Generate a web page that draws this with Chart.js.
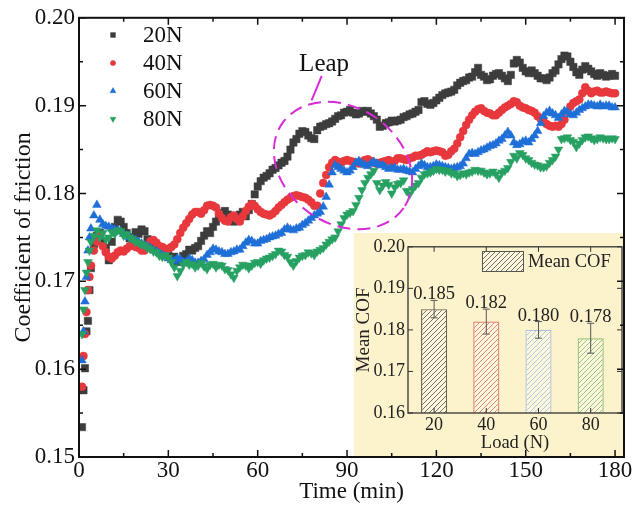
<!DOCTYPE html>
<html>
<head>
<meta charset="utf-8">
<title>Coefficient of friction vs. time</title>
<script src="https://cdn.jsdelivr.net/npm/chart.js@4.4.1/dist/chart.umd.min.js"></script>
<style>
  html, body { margin: 0; padding: 0; background: #fff; }
  #wrap { position: relative; width: 632px; height: 510px; overflow: hidden; }
  #inset { position: absolute; left: 354px; top: 233px; z-index: 0; }
  #main { position: absolute; left: 0; top: 0; z-index: 1; }
</style>
</head>
<body>
<div id="wrap">
  <canvas id="inset" width="270" height="224"></canvas>
  <canvas id="main" width="632" height="510"></canvas>
</div>
<script>
// Sliding time (min)
const minutes = [1, 1.5, 2, 2.5, 3, 3.5, 4, 5, 6, 7,
  8, 9, 10, 11, 12, 13, 14, 15, 16, 17,
  18, 19, 20, 21, 22, 23, 24, 25, 26, 27,
  28, 29, 30, 31, 32, 33, 34, 35, 36, 37,
  38, 39, 40, 41, 42, 43, 44, 45, 46, 47,
  48, 49, 50, 51, 52, 53, 54, 55, 56, 57,
  58, 59, 60, 61, 62, 63, 64, 65, 66, 67,
  68, 69, 70, 71, 72, 73, 74, 75, 76, 77,
  78, 79, 80, 81, 82, 83, 84, 85, 86, 87,
  88, 89, 90, 91, 92, 93, 94, 95, 96, 97,
  98, 99, 100, 101, 102, 103, 104, 105, 106, 107,
  108, 109, 110, 111, 112, 113, 114, 115, 116, 117,
  118, 119, 120, 121, 122, 123, 124, 125, 126, 127,
  128, 129, 130, 131, 132, 133, 134, 135, 136, 137,
  138, 139, 140, 141, 142, 143, 144, 145, 146, 147,
  148, 149, 150, 151, 152, 153, 154, 155, 156, 157,
  158, 159, 160, 161, 162, 163, 164, 165, 166, 167,
  168, 169, 170, 171, 172, 173, 174, 175, 176, 177,
  178, 179, 180];

// Coefficient of friction under each normal load
const cof20N = [0.1534, 0.1576, 0.1601, 0.1643, 0.1655, 0.1690, 0.1715, 0.1742, 0.1752, 0.1755,
  0.1745, 0.1738, 0.1724, 0.1745, 0.1762, 0.1770, 0.1768, 0.1762, 0.1755, 0.1749,
  0.1750, 0.1756, 0.1754, 0.1759, 0.1757, 0.1748, 0.1745, 0.1742, 0.1739, 0.1738,
  0.1735, 0.1731, 0.1730, 0.1727, 0.1728, 0.1722, 0.1724, 0.1729, 0.1731, 0.1736,
  0.1735, 0.1738, 0.1740, 0.1746, 0.1752, 0.1757, 0.1755, 0.1762, 0.1768, 0.1774,
  0.1778, 0.1780, 0.1776, 0.1771, 0.1768, 0.1773, 0.1776, 0.1779, 0.1774, 0.1781,
  0.1788, 0.1799, 0.1808, 0.1814, 0.1818, 0.1820, 0.1823, 0.1827, 0.1829, 0.1832,
  0.1835, 0.1837, 0.1842, 0.1850, 0.1858, 0.1862, 0.1868, 0.1871, 0.1870, 0.1866,
  0.1863, 0.1862, 0.1872, 0.1876, 0.1877, 0.1879, 0.1880, 0.1882, 0.1885, 0.1888,
  0.1889, 0.1892, 0.1893, 0.1895, 0.1892, 0.1890, 0.1891, 0.1894, 0.1893, 0.1894,
  0.1891, 0.1888, 0.1884, 0.1876, 0.1877, 0.1880, 0.1881, 0.1883, 0.1882, 0.1883,
  0.1884, 0.1887, 0.1888, 0.1890, 0.1891, 0.1893, 0.1895, 0.1904, 0.1905, 0.1902,
  0.1901, 0.1903, 0.1906, 0.1909, 0.1912, 0.1914, 0.1915, 0.1916, 0.1918, 0.1923,
  0.1926, 0.1928, 0.1929, 0.1932, 0.1933, 0.1938, 0.1943, 0.1935, 0.1933, 0.1929,
  0.1930, 0.1934, 0.1936, 0.1937, 0.1934, 0.1931, 0.1928, 0.1935, 0.1948, 0.1952,
  0.1949, 0.1943, 0.1939, 0.1937, 0.1940, 0.1937, 0.1934, 0.1931, 0.1931, 0.1929,
  0.1932, 0.1937, 0.1940, 0.1947, 0.1953, 0.1957, 0.1956, 0.1950, 0.1944, 0.1938,
  0.1935, 0.1941, 0.1945, 0.1942, 0.1939, 0.1936, 0.1934, 0.1937, 0.1935, 0.1933,
  0.1934, 0.1936, 0.1934];

const cof40N = [0.1580, 0.1615, 0.1640, 0.1665, 0.1690, 0.1705, 0.1718, 0.1735, 0.1745, 0.1752,
  0.1740, 0.1733, 0.1728, 0.1726, 0.1729, 0.1733, 0.1735, 0.1734, 0.1737, 0.1740,
  0.1741, 0.1739, 0.1738, 0.1735, 0.1735, 0.1741, 0.1746, 0.1747, 0.1744, 0.1740,
  0.1739, 0.1737, 0.1737, 0.1739, 0.1742, 0.1748, 0.1755, 0.1761, 0.1766, 0.1771,
  0.1776, 0.1779, 0.1779, 0.1777, 0.1781, 0.1786, 0.1787, 0.1786, 0.1784, 0.1777,
  0.1772, 0.1769, 0.1768, 0.1773, 0.1775, 0.1771, 0.1768, 0.1774, 0.1780, 0.1785,
  0.1788, 0.1786, 0.1782, 0.1779, 0.1777, 0.1776, 0.1775, 0.1777, 0.1780, 0.1784,
  0.1787, 0.1790, 0.1793, 0.1795, 0.1797, 0.1798, 0.1797, 0.1796, 0.1795, 0.1793,
  0.1790, 0.1786, 0.1786, 0.1800, 0.1812, 0.1821, 0.1830, 0.1835, 0.1838, 0.1836,
  0.1835, 0.1837, 0.1838, 0.1837, 0.1836, 0.1835, 0.1834, 0.1836, 0.1838, 0.1839,
  0.1837, 0.1835, 0.1834, 0.1835, 0.1836, 0.1837, 0.1838, 0.1836, 0.1837, 0.1840,
  0.1840, 0.1839, 0.1838, 0.1840, 0.1841, 0.1843, 0.1843, 0.1844, 0.1846, 0.1848,
  0.1847, 0.1848, 0.1849, 0.1848, 0.1847, 0.1843, 0.1844, 0.1848, 0.1851, 0.1857,
  0.1864, 0.1871, 0.1878, 0.1884, 0.1889, 0.1893, 0.1896, 0.1897, 0.1894, 0.1892,
  0.1891, 0.1889, 0.1889, 0.1892, 0.1895, 0.1898, 0.1900, 0.1902, 0.1905, 0.1904,
  0.1900, 0.1898, 0.1897, 0.1895, 0.1894, 0.1892, 0.1888, 0.1885, 0.1882, 0.1879,
  0.1877, 0.1876, 0.1877, 0.1876, 0.1879, 0.1884, 0.1893, 0.1899, 0.1903, 0.1905,
  0.1907, 0.1914, 0.1921, 0.1917, 0.1914, 0.1916, 0.1917, 0.1915, 0.1915, 0.1916,
  0.1915, 0.1914, 0.1914];

const cof60N = [0.1610, 0.1643, 0.1677, 0.1705, 0.1735, 0.1750, 0.1760, 0.1775, 0.1787, 0.1770,
  0.1765, 0.1763, 0.1762, 0.1760, 0.1759, 0.1758, 0.1757, 0.1754, 0.1752, 0.1750,
  0.1748, 0.1747, 0.1745, 0.1743, 0.1741, 0.1740, 0.1738, 0.1735, 0.1734, 0.1732,
  0.1730, 0.1728, 0.1726, 0.1724, 0.1723, 0.1726, 0.1725, 0.1722, 0.1722, 0.1726,
  0.1724, 0.1721, 0.1721, 0.1723, 0.1725, 0.1730, 0.1733, 0.1737, 0.1736, 0.1734,
  0.1733, 0.1731, 0.1731, 0.1733, 0.1734, 0.1736, 0.1736, 0.1740, 0.1744, 0.1747,
  0.1746, 0.1743, 0.1743, 0.1746, 0.1747, 0.1748, 0.1750, 0.1751, 0.1752, 0.1754,
  0.1755, 0.1759, 0.1761, 0.1759, 0.1758, 0.1760, 0.1761, 0.1764, 0.1766, 0.1769,
  0.1772, 0.1775, 0.1777, 0.1779, 0.1785, 0.1796, 0.1810, 0.1824, 0.1832, 0.1830,
  0.1828, 0.1826, 0.1824, 0.1826, 0.1830, 0.1835, 0.1837, 0.1834, 0.1832, 0.1831,
  0.1834, 0.1836, 0.1834, 0.1832, 0.1832, 0.1830, 0.1828, 0.1829, 0.1829, 0.1827,
  0.1827, 0.1828, 0.1826, 0.1825, 0.1824, 0.1828, 0.1831, 0.1834, 0.1832, 0.1830,
  0.1830, 0.1831, 0.1833, 0.1832, 0.1831, 0.1830, 0.1829, 0.1828, 0.1829, 0.1830,
  0.1831, 0.1834, 0.1840, 0.1845, 0.1846, 0.1845, 0.1847, 0.1849, 0.1850, 0.1852,
  0.1854, 0.1855, 0.1857, 0.1860, 0.1862, 0.1866, 0.1870, 0.1866, 0.1858, 0.1855,
  0.1856, 0.1859, 0.1860, 0.1858, 0.1862, 0.1866, 0.1871, 0.1880, 0.1888, 0.1892,
  0.1894, 0.1891, 0.1889, 0.1886, 0.1890, 0.1894, 0.1893, 0.1890, 0.1889, 0.1892,
  0.1895, 0.1897, 0.1899, 0.1901, 0.1901, 0.1900, 0.1899, 0.1901, 0.1899, 0.1900,
  0.1900, 0.1898, 0.1898];

const cof80N = [0.1640, 0.1668, 0.1690, 0.1710, 0.1722, 0.1735, 0.1745, 0.1752, 0.1758, 0.1750,
  0.1755, 0.1748, 0.1750, 0.1756, 0.1754, 0.1758, 0.1757, 0.1752, 0.1754, 0.1750,
  0.1748, 0.1745, 0.1744, 0.1742, 0.1741, 0.1738, 0.1737, 0.1734, 0.1733, 0.1729,
  0.1728, 0.1730, 0.1727, 0.1722, 0.1716, 0.1706, 0.1712, 0.1719, 0.1722, 0.1719,
  0.1720, 0.1716, 0.1718, 0.1721, 0.1717, 0.1714, 0.1719, 0.1720, 0.1716, 0.1719,
  0.1718, 0.1714, 0.1713, 0.1708, 0.1704, 0.1712, 0.1716, 0.1719, 0.1718, 0.1715,
  0.1718, 0.1721, 0.1722, 0.1720, 0.1724, 0.1726, 0.1727, 0.1729, 0.1731, 0.1735,
  0.1734, 0.1730, 0.1728, 0.1722, 0.1718, 0.1723, 0.1727, 0.1729, 0.1730, 0.1733,
  0.1732, 0.1730, 0.1734, 0.1736, 0.1738, 0.1742, 0.1745, 0.1748, 0.1750, 0.1757,
  0.1765, 0.1772, 0.1776, 0.1778, 0.1780, 0.1787, 0.1795, 0.1804, 0.1812, 0.1818,
  0.1822, 0.1826, 0.1812, 0.1804, 0.1809, 0.1813, 0.1810, 0.1800, 0.1807, 0.1811,
  0.1812, 0.1815, 0.1803, 0.1799, 0.1805, 0.1809, 0.1812, 0.1818, 0.1822, 0.1823,
  0.1824, 0.1826, 0.1828, 0.1827, 0.1827, 0.1825, 0.1826, 0.1823, 0.1823, 0.1820,
  0.1821, 0.1823, 0.1822, 0.1824, 0.1825, 0.1827, 0.1826, 0.1826, 0.1824, 0.1822,
  0.1823, 0.1825, 0.1822, 0.1818, 0.1824, 0.1826, 0.1829, 0.1836, 0.1843, 0.1840,
  0.1846, 0.1844, 0.1840, 0.1838, 0.1835, 0.1833, 0.1832, 0.1830, 0.1830, 0.1831,
  0.1835, 0.1838, 0.1842, 0.1850, 0.1862, 0.1863, 0.1864, 0.1861, 0.1859, 0.1853,
  0.1857, 0.1861, 0.1864, 0.1865, 0.1863, 0.1861, 0.1862, 0.1864, 0.1863, 0.1862,
  0.1862, 0.1863, 0.1862];

const seriesLabels = ['20N', '40N', '60N', '80N'];

// Mean COF summary per load
const loads = ['20', '40', '60', '80'];
const meanCOF = [0.185, 0.182, 0.180, 0.178];
const cofError = [0.0021, 0.0030, 0.0020, 0.0036];

const SERIF = "'Liberation Serif', 'Times New Roman', serif";
Chart.defaults.font.family = SERIF;
Chart.defaults.color = '#111';

// ---------- shared plugins ----------
const frameTicks = {
  id: 'frameTicks',
  afterDraw(chart, args, o) {
    const { ctx, chartArea: a, scales: { x, y } } = chart;
    ctx.save();
    ctx.strokeStyle = o.color;
    ctx.lineWidth = o.tickWidth;
    ctx.beginPath();
    const each = (scale, step, major, fn) => {
      const k0 = Math.ceil(scale.min / step - 1e-6), k1 = Math.floor(scale.max / step + 1e-6);
      for (let k = k0; k <= k1; k++) {
        const v = k * step;
        const isMajor = Math.abs(v / major - Math.round(v / major)) < 1e-6;
        fn(scale.getPixelForValue(v), isMajor ? o.major : o.minor);
      }
    };
    each(x, o.xStep, o.xMajor, (px, len) => {
      ctx.moveTo(px, a.bottom); ctx.lineTo(px, a.bottom - len);
      ctx.moveTo(px, a.top); ctx.lineTo(px, a.top + len);
    });
    each(y, o.yStep, o.yMajor, (py, len) => {
      ctx.moveTo(a.left, py); ctx.lineTo(a.left + len, py);
      ctx.moveTo(a.right, py); ctx.lineTo(a.right - len, py);
    });
    ctx.stroke();
    ctx.lineWidth = o.frameWidth;
    ctx.strokeRect(a.left, a.top, a.right - a.left, a.bottom - a.top);
    ctx.restore();
  }
};

// ---------- main time-series chart ----------
const markers = [
  { color: '#3d3d3d', style: 'rect', radius: 5.2, rotation: 0 },
  { color: '#e8383d', style: 'circle', radius: 4.0, rotation: 0 },
  { color: '#1f6fd8', style: 'triangle', radius: 5.0, rotation: 0 },
  { color: '#27a162', style: 'triangle', radius: 5.0, rotation: 180 }
];
const seriesValues = [cof20N, cof40N, cof60N, cof80N];

const seriesKey = {
  id: 'seriesKey',
  afterDraw(chart, args, o) {
    const { ctx } = chart;
    ctx.save();
    ctx.font = o.font;
    ctx.textAlign = 'left';
    ctx.textBaseline = 'middle';
    chart.data.datasets.forEach((ds, i) => {
      const cy = o.y + i * o.rowGap;
      ctx.fillStyle = ds.pointBackgroundColor;
      ctx.strokeStyle = ds.pointBorderColor;
      ctx.lineWidth = 0.5;
      Chart.helpers.drawPoint(ctx, {
        pointStyle: ds.pointStyle, rotation: ds.pointRotation,
        radius: o.markerRadius[i], borderWidth: 0.5
      }, o.x, cy);
      ctx.fillStyle = o.color;
      ctx.fillText(ds.label, o.textX, cy + 1);
    });
    ctx.restore();
  }
};

const leapNote = {
  id: 'leapNote',
  afterDatasetsDraw(chart, args, o) {
    const { ctx, scales: { x, y } } = chart;
    const cx = x.getPixelForValue(o.center[0]);
    const cy = y.getPixelForValue(o.center[1]);
    ctx.save();
    ctx.strokeStyle = o.color;
    ctx.lineWidth = o.lineWidth;
    ctx.setLineDash(o.dash);
    ctx.beginPath();
    ctx.ellipse(cx, cy, o.radii[0], o.radii[1], o.tilt * Math.PI / 180, 0, Math.PI * 2);
    ctx.stroke();
    ctx.setLineDash([]);
    ctx.beginPath();
    ctx.moveTo(x.getPixelForValue(o.leader[0][0]), y.getPixelForValue(o.leader[0][1]));
    ctx.lineTo(x.getPixelForValue(o.leader[1][0]), y.getPixelForValue(o.leader[1][1]));
    ctx.stroke();
    ctx.font = o.font;
    ctx.fillStyle = o.textColor;
    ctx.textAlign = 'center';
    ctx.textBaseline = 'alphabetic';
    ctx.fillText(o.text, x.getPixelForValue(o.textAt[0]), y.getPixelForValue(o.textAt[1]));
    ctx.restore();
  }
};

new Chart(document.getElementById('main'), {
  type: 'scatter',
  data: {
    datasets: seriesValues.map((vals, i) => ({
      label: seriesLabels[i],
      data: minutes.map((t, j) => ({ x: t, y: vals[j] })),
      showLine: false,
      pointStyle: markers[i].style,
      pointRotation: markers[i].rotation,
      pointRadius: markers[i].radius,
      pointBackgroundColor: markers[i].color,
      pointBorderColor: markers[i].color,
      pointBorderWidth: 0.5,
      order: seriesValues.length - i
    }))
  },
  options: {
    responsive: false,
    animation: false,
    devicePixelRatio: 1,
    events: [],
    layout: { padding: { top: 17, right: 8, left: 0, bottom: 0 } },
    scales: {
      x: {
        type: 'linear', min: 0, max: 183,
        grid: { display: false, drawTicks: false },
        border: { display: false },
        ticks: { stepSize: 30, includeBounds: false, padding: 0, maxRotation: 0,
                 font: { size: 23 }, color: '#111' },
        afterBuildTicks: s => { s.ticks = s.ticks.filter(t => t.value % 30 === 0); },
        afterFit: s => { s.height = 53; s.paddingLeft = 0; s.paddingRight = 0; },
        title: { display: true, text: 'Time (min)', font: { size: 23 }, color: '#111',
                 padding: { top: 0, bottom: 4 } }
      },
      y: {
        type: 'linear', min: 0.15, max: 0.20,
        grid: { display: false, drawTicks: false },
        border: { display: false },
        ticks: { stepSize: 0.01, includeBounds: false, padding: 4,
                 font: { size: 23 }, color: '#111', callback: v => v.toFixed(2) },
        afterFit: s => { s.width = 79; },
        title: { display: true, text: 'Coefficient of friction', font: { size: 24 }, color: '#111',
                 padding: { top: 9, bottom: 0 } }
      }
    },
    plugins: {
      legend: { display: false },
      tooltip: { enabled: false },
      frameTicks: { color: '#111', tickWidth: 1.5, frameWidth: 2, major: 7, minor: 4,
                    xStep: 15, xMajor: 30, yStep: 0.005, yMajor: 0.01 },
      seriesKey: { x: 113, y: 35, rowGap: 28, textX: 143, font: '23px ' + SERIF, color: '#111',
                   markerRadius: [3.4, 2.6, 3.4, 3.4] },
      leapNote: { text: 'Leap', textAt: [82.3, 0.1940], leader: [[81.5, 0.1934], [78.1, 0.1906]],
                  center: [88.65, 0.18318], radii: [74, 58], tilt: 35,
                  color: '#d82bd8', lineWidth: 2, dash: [13, 7],
                  font: '25px ' + SERIF, textColor: '#111' }
    }
  },
  plugins: [frameTicks, seriesKey, leapNote]
});

// ---------- inset: mean COF per load ----------
const insetCanvas = document.getElementById('inset');
const ictx = insetCanvas.getContext('2d');
const barColors = ['#6a6055', '#e0786a', '#a9c3dc', '#8dbf72'];

function hatch(color) {
  const s = 5;
  const c = document.createElement('canvas');
  c.width = s; c.height = s;
  const g = c.getContext('2d');
  g.fillStyle = 'rgba(255,255,255,0.35)';
  g.fillRect(0, 0, s, s);
  g.strokeStyle = color;
  g.lineWidth = 0.9;
  g.beginPath();
  g.moveTo(0, s); g.lineTo(s, 0);
  g.moveTo(-1, 1); g.lineTo(1, -1);
  g.moveTo(s - 1, s + 1); g.lineTo(s + 1, s - 1);
  g.stroke();
  return ictx.createPattern(c, 'repeat');
}

const panelFill = {
  id: 'panelFill',
  beforeDraw(chart, args, o) {
    const { ctx, width, height } = chart;
    ctx.save();
    ctx.fillStyle = o.color;
    ctx.fillRect(0, 0, width, height);
    ctx.restore();
  }
};

const errorBars = {
  id: 'errorBars',
  afterDatasetsDraw(chart, args, o) {
    const { ctx, scales: { x, y } } = chart;
    ctx.save();
    ctx.strokeStyle = o.color;
    ctx.lineWidth = o.lineWidth;
    ctx.font = o.font;
    ctx.textAlign = 'center';
    ctx.textBaseline = 'alphabetic';
    meanCOF.forEach((m, i) => {
      const px = x.getPixelForValue(i + 1);
      const top = y.getPixelForValue(m + cofError[i]);
      const bot = y.getPixelForValue(m - cofError[i]);
      ctx.beginPath();
      ctx.moveTo(px, top); ctx.lineTo(px, bot);
      ctx.moveTo(px - o.cap, top); ctx.lineTo(px + o.cap, top);
      ctx.moveTo(px - o.cap, bot); ctx.lineTo(px + o.cap, bot);
      ctx.stroke();
      ctx.fillStyle = o.textColor;
      ctx.fillText(m.toFixed(3), px, top - 1);
    });
    ctx.restore();
  }
};

const insetKey = {
  id: 'insetKey',
  afterDraw(chart, args, o) {
    const { ctx } = chart;
    ctx.save();
    ctx.fillStyle = o.fill;
    ctx.fillRect(o.box[0], o.box[1], o.box[2], o.box[3]);
    ctx.strokeStyle = o.border;
    ctx.lineWidth = 1;
    ctx.strokeRect(o.box[0] + 0.5, o.box[1] + 0.5, o.box[2], o.box[3]);
    ctx.fillStyle = '#222';
    ctx.font = o.font;
    ctx.textAlign = 'left';
    ctx.textBaseline = 'middle';
    ctx.fillText(chart.data.datasets[0].label, o.textX, o.box[1] + o.box[3] / 2 + 1);
    ctx.restore();
  }
};

new Chart(insetCanvas, {
  type: 'bar',
  data: {
    datasets: [{
      label: 'Mean COF',
      data: meanCOF.map((m, i) => ({ x: i + 1, y: m })),
      backgroundColor: barColors.map(hatch),
      borderColor: barColors,
      borderWidth: 1.2,
      barPercentage: 0.5,
      categoryPercentage: 1
    }]
  },
  options: {
    responsive: false,
    animation: false,
    devicePixelRatio: 1,
    events: [],
    layout: { padding: { top: 13, right: 2, left: 0, bottom: 0 } },
    scales: {
      x: {
        type: 'linear', min: 0.5, max: 4.6, offset: false,
        grid: { display: false, drawTicks: false, offset: false },
        border: { display: false },
        ticks: { stepSize: 1, includeBounds: false, padding: 1, maxRotation: 0,
                 font: { size: 18 }, color: '#222', callback: v => loads[v - 1] },
        afterFit: s => { s.height = 44; s.paddingLeft = 0; s.paddingRight = 0; },
        title: { display: true, text: 'Load (N)', font: { size: 18.5 }, color: '#222',
                 padding: { top: 0, bottom: 3 } }
      },
      y: {
        type: 'linear', min: 0.16, max: 0.20,
        grid: { display: false, drawTicks: false },
        border: { display: false },
        ticks: { stepSize: 0.01, includeBounds: false, padding: 3,
                 font: { size: 18 }, color: '#222', callback: v => v.toFixed(2) },
        afterFit: s => { s.width = 54; },
        title: { display: true, text: 'Mean COF', font: { size: 19 }, color: '#222',
                 padding: { top: -1, bottom: 0 } }
      }
    },
    plugins: {
      legend: { display: false },
      tooltip: { enabled: false },
      panelFill: { color: '#fcf3cd' },
      frameTicks: { color: '#333', tickWidth: 1, frameWidth: 1.3, major: 5, minor: 5,
                    xStep: 1, xMajor: 1, yStep: 0.01, yMajor: 0.01 },
      errorBars: { color: '#555', lineWidth: 1, cap: 3.5, font: '18.5px ' + SERIF, textColor: '#222' },
      insetKey: { box: [128, 18, 41, 20], fill: hatch('#6a6055'), border: '#555',
                  textX: 174, font: '18.5px ' + SERIF }
    }
  },
  plugins: [panelFill, frameTicks, errorBars, insetKey]
});
</script>
</body>
</html>
